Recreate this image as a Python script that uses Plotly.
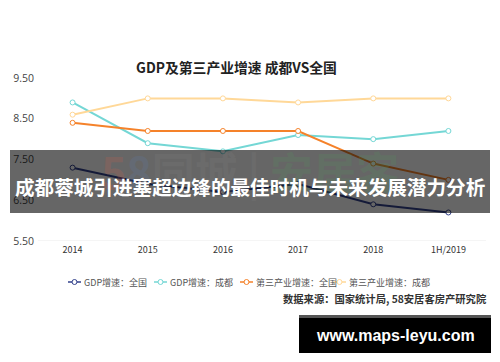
import plotly.graph_objects as go

years = ["2014", "2015", "2016", "2017", "2018", "1H/2019"]
gdp_national = [7.3, 6.9, 6.7, 6.9, 6.4, 6.2]
gdp_chengdu = [8.9, 7.9, 7.7, 8.1, 8.0, 8.2]
tertiary_national = [8.4, 8.2, 8.2, 8.2, 7.4, 7.0]
tertiary_chengdu = [8.6, 9.0, 9.0, 8.9, 9.0, 9.0]
y_ticks = [5.5, 6.5, 7.5, 8.5, 9.5]

series_names = ["GDP增速：全国", "GDP增速：成都", "第三产业增速：全国", "第三产业增速：成都"]
series_values = [gdp_national, gdp_chengdu, tertiary_national, tertiary_chengdu]
series_colors = ["#33428C", "#74D7D5", "#F5822A", "#FFD898"]

FONT = "Noto Sans CJK SC"
W_FIG, H_FIG = 500, 362
L, R, T, B = 35, 486, 78, 241  # plot area in pixels


def px(x):
    return (x - L) / (R - L)


def py(y):
    return (B - y) / (B - T)


fig = go.Figure()
for name, vals, col in zip(series_names, series_values, series_colors):
    fig.add_trace(go.Scatter(
        x=years, y=vals, name=name, mode="lines+markers",
        line=dict(color=col, width=2),
        marker=dict(symbol="circle", size=5, color="white", line=dict(color=col, width=1)),
        showlegend=False,
    ))

fig.update_layout(
    width=W_FIG, height=H_FIG,
    margin=dict(l=L, r=W_FIG - R, t=T, b=H_FIG - B, autoexpand=False),
    paper_bgcolor="white", plot_bgcolor="white",
    font=dict(family=FONT, color="#444"),
    showlegend=False,
    title=dict(text="<b>GDP及第三产业增速 成都VS全国</b>", x=236.5 / W_FIG, xanchor="center",
               y=1 - 68 / H_FIG, yanchor="middle",
               font=dict(size=13.8, color="#222", family=FONT)),
)
fig.update_xaxes(type="category", range=[-0.5, 5.5], showgrid=False, showline=False, zeroline=False,
                 ticks="", tickfont=dict(size=9, color="#333", family=FONT),
                 ticklabelstandoff=2, automargin=False)
fig.update_yaxes(range=[5.5, 9.5], tickvals=y_ticks, ticktext=[f"{v:.2f}" for v in y_ticks],
                 showgrid=False, zeroline=False, automargin=False,
                 showline=False, ticks="", tickfont=dict(size=10.5, color="#444", family="Open Sans"))
# baseline grid line at 5.50
fig.add_shape(type="line", xref="paper", yref="y", x0=px(38), x1=1, y0=5.5, y1=5.5,
              line=dict(color="#EBEBEB", width=1), layer="below")

# manual legend
legend_x = [68, 154, 240, 333]
legend_y = 282
for sx, name, col in zip(legend_x, series_names, series_colors):
    fig.add_shape(type="line", xref="paper", yref="paper", x0=px(sx), x1=px(sx + 13),
                  y0=py(legend_y), y1=py(legend_y), line=dict(color=col, width=1.5))
    fig.add_shape(type="circle", xref="paper", yref="paper",
                  x0=px(sx + 4), x1=px(sx + 9), y0=py(legend_y + 2.5), y1=py(legend_y - 2.5),
                  fillcolor="white", line=dict(color=col, width=1))
    fig.add_annotation(xref="paper", yref="paper", x=px(sx + 14), xanchor="left",
                       y=py(legend_y), yanchor="middle", text=name, showarrow=False,
                       font=dict(size=9, color="#555", family=FONT))

# faint logo watermark (low opacity so it shows faintly through the banner too)
logo = ("<b><span style='color:#EB5A46'>5</span>"
        "<span style='color:#5A82BE'>8</span>"
        "<span style='color:#888888'>同城 | </span>"
        "<span style='color:#50A05A'>安居客</span></b>")
fig.add_annotation(xref="paper", yref="paper", x=px(250), y=py(170), yanchor="middle",
                   text=logo, showarrow=False, opacity=0.16,
                   font=dict(size=43, color="#888888", family=FONT))

# source
fig.add_annotation(xref="paper", yref="paper", x=px(489), xanchor="right",
                   y=py(298), yanchor="middle",
                   text="<b>数据来源：国家统计局, 58安居客房产研究院</b>", showarrow=False,
                   font=dict(size=10.3, color="#333", family=FONT))

# overlay banner
fig.add_shape(type="rect", xref="paper", yref="paper",
              x0=px(10), x1=px(490), y0=py(213), y1=py(150),
              fillcolor="rgba(0,0,0,0.6)", line=dict(width=0), layer="above")
fig.add_annotation(xref="paper", yref="paper", x=px(250), xanchor="center",
                   y=py(186), yanchor="middle",
                   text="<b>成都蓉城引进塞超边锋的最佳时机与未来发展潜力分析</b>", showarrow=False,
                   font=dict(size=19.6, color="white", family=FONT))

# website watermark
fig.add_shape(type="rect", xref="paper", yref="paper",
              x0=px(299), x1=px(491), y0=py(353), y1=py(315),
              fillcolor="black", line=dict(width=0), layer="above")
fig.add_shape(type="rect", xref="paper", yref="paper",
              x0=px(299), x1=px(491), y0=py(318), y1=py(315),
              fillcolor="#555", line=dict(width=0), layer="above")
fig.add_annotation(xref="paper", yref="paper", x=px(395), xanchor="center",
                   y=py(335), yanchor="middle",
                   text="<b>www.maps-leyu.com</b>", showarrow=False,
                   font=dict(size=16, color="white", family="Liberation Sans"))

fig.write_html("out.html", config={"displayModeBar": False},
               post_script="document.body.style.margin='0';document.body.style.overflow='hidden';")
